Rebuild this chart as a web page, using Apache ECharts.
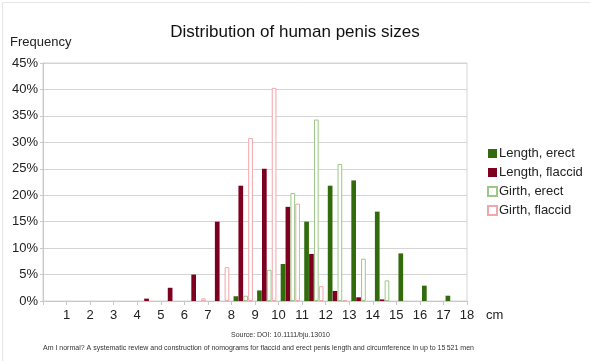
<!DOCTYPE html>
<html><head><meta charset="utf-8">
<script src="https://cdn.jsdelivr.net/npm/echarts@6/dist/echarts.min.js"></script>
<style>html,body{margin:0;padding:0;background:#fff}#c{width:590px;height:361px}</style>
</head><body><div id="c"></div>
<script>
// Bins: interval [n, n+1] cm
var bins = ['0-1','1-2','2-3','3-4','4-5','5-6','6-7','7-8','8-9','9-10','10-11','11-12','12-13','13-14','14-15','15-16','16-17','17-18'];
var tickLabels = ['1','2','3','4','5','6','7','8','9','10','11','12','13','14','15','16','17','18'];
var seriesNames = ['Length, erect','Length, flaccid','Girth, erect','Girth, flaccid'];
// Frequencies in %
var lengthErect   = [0,0,0,0,0,0,0,0,0.9,2,7,15,21.8,22.8,16.9,9,2.9,1];
var lengthFlaccid = [0,0,0,0,0.45,2.5,5,15,21.8,25,17.8,8.9,1.9,0.7,0.3,0,0,0];
var girthErect    = [0,0,0,0,0,0,0,0,1,5.9,20.4,34.3,25.9,8,3.9,0,0,0];
var girthFlaccid  = [0,0,0,0,0,0,0.5,6.4,30.8,40.3,18.4,2.8,0.2,0,0,0,0,0];
var yTicks = [0,5,10,15,20,25,30,35,40,45];

var font = 'Liberation Sans';
var chart = echarts.init(document.getElementById('c'), null, {renderer:'canvas'});
function bar(name, data, style){
  var d = data.map(function(v){ return v === 0 ? '-' : v; });
  return {name:name, type:'bar', xAxisIndex:0, data:d, barGap:'4%', barCategoryGap:'18%', itemStyle:style, emphasis:{disabled:true}};
}
chart.setOption({
  animation:false,
  textStyle:{fontFamily:font},
  title:{text:'Distribution of human penis sizes', left:'center', top:19,
    textStyle:{fontFamily:font, fontSize:17, fontWeight:'normal', color:'#111'}},
  grid:{left:43, right:123, top:63, bottom:60, show:true, borderColor:'#d4d4d4', borderWidth:1, backgroundColor:'transparent'},
  legend:{orient:'vertical', left:482, top:142, itemWidth:9, itemHeight:9, itemGap:6, icon:'rect',
    textStyle:{fontFamily:font, fontSize:13, color:'#222', padding:[0,0,0,-3]}, data:seriesNames},
  xAxis:[
    {type:'category', data:bins, show:false},
    {type:'value', min:0, max:18, interval:1, position:'bottom',
      axisLine:{show:true, lineStyle:{color:'#c8c8c8'}},
      axisTick:{show:true, length:4, lineStyle:{color:'#c8c8c8'}},
      splitLine:{show:false},
      axisLabel:{margin:8, fontFamily:font, fontSize:13, color:'#222',
        formatter:function(v){ return v===0 ? '' : tickLabels[v-1]; }}}
  ],
  yAxis:{type:'value', min:yTicks[0], max:yTicks[yTicks.length-1], interval:5,
    axisLine:{show:true, lineStyle:{color:'#c8c8c8'}},
    axisTick:{show:true, length:3, lineStyle:{color:'#c8c8c8'}},
    splitLine:{show:true, lineStyle:{color:'#d4d4d4'}},
    axisLabel:{margin:5, fontFamily:font, fontSize:13, color:'#222', formatter:function(v){return v+'%';}}},
  graphic:[
    {type:'text', left:10, top:36, style:{text:'Frequency', font:'13px "Liberation Sans"', fill:'#222'}},
    {type:'text', left:486, top:309, style:{text:'cm', font:'13px "Liberation Sans"', fill:'#222'}},
    {type:'text', left:231, top:332, style:{text:'Source: DOI: 10.1111/bju.13010', font:'7px "Liberation Sans"', fill:'#333'}},
    {type:'text', left:43, top:345, style:{text:'Am I normal? A systematic review and construction of nomograms for flaccid and erect penis length and circumference in up to 15\u2009521 men', font:'7px "Liberation Sans"', fill:'#333'}},
    {type:'rect', left:0, top:0, shape:{width:589, height:360}, style:{fill:'none', stroke:'#e6e6e6', lineWidth:1}}
  ],
  series:[
    bar(seriesNames[0], lengthErect, {color:'#326b0c'}),
    bar(seriesNames[1], lengthFlaccid, {color:'#7e0021'}),
    bar(seriesNames[2], girthErect, {color:'#ffffff', borderColor:'#9cc785', borderWidth:1}),
    bar(seriesNames[3], girthFlaccid, {color:'#ffffff', borderColor:'#f2a5aa', borderWidth:1})
  ]
});
</script></body></html>
